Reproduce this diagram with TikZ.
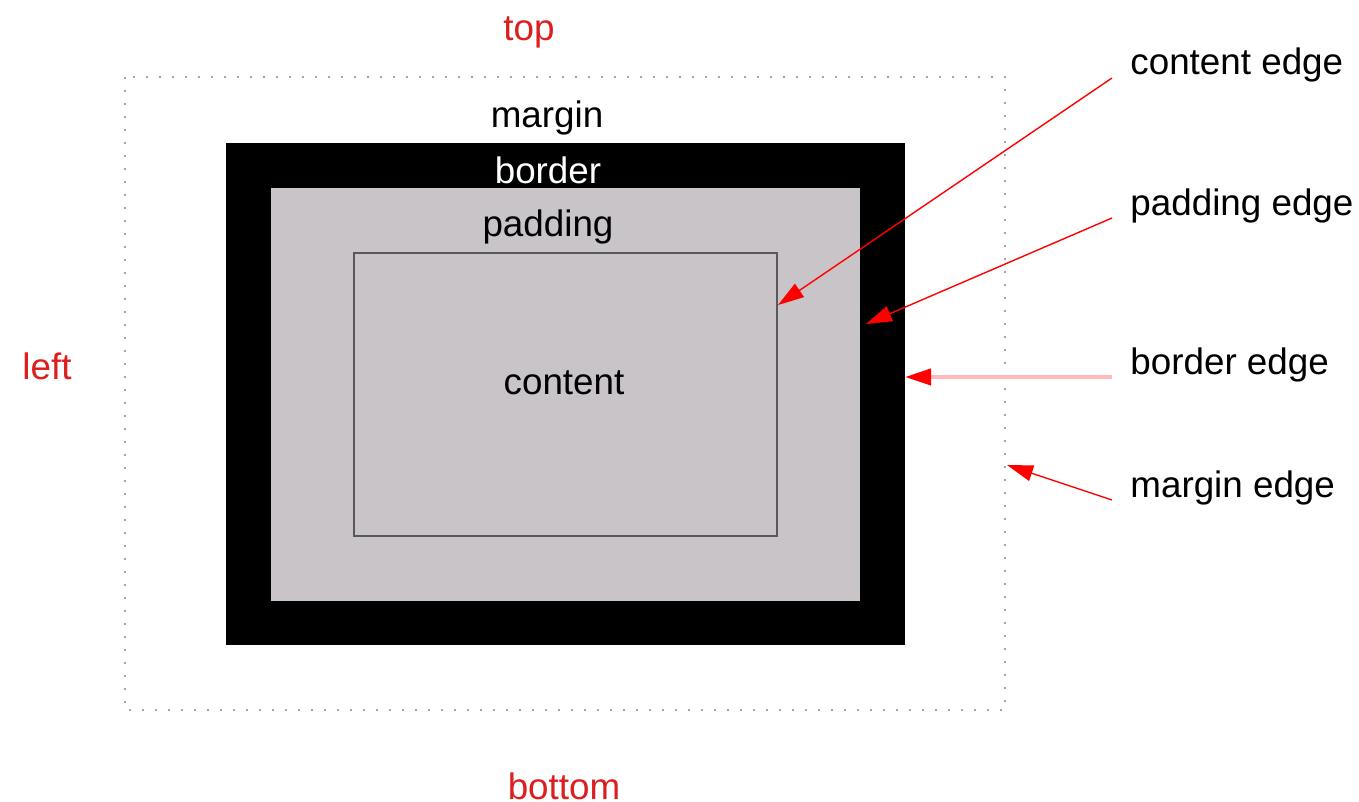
\documentclass[tikz,border=0pt]{standalone}
\usepackage{fontspec}
\setmainfont{Liberation Sans}
\usetikzlibrary{arrows.meta}
\definecolor{padgray}{RGB}{200,196,200}
\definecolor{labred}{RGB}{220,30,30}
\definecolor{arrred}{RGB}{255,0,0}
\definecolor{pinkline}{RGB}{255,185,185}
\begin{document}
\begin{tikzpicture}[x=0.5pt,y=-0.5pt,
  lbl/.style={font=\fontsize{18.4}{22}\selectfont, inner sep=0pt},
  redlbl/.style={lbl, text=labred},
  edgelbl/.style={lbl, anchor=west},
  ptr/.style={draw=arrred, line width=0.7pt, -{Triangle[length=13pt,width=8pt]}},
  ptrpink/.style={draw=pinkline, line width=2pt, -{Triangle[length=13pt,width=8pt,color=arrred,fill=arrred]}}]
\useasboundingbox (0,0) rectangle (1359,802);
% margin edge (dotted)
\draw[gray!70, line width=1pt, dash pattern=on 1pt off 5.5pt] (125,77) rectangle (1005,710);
% border
\fill[black] (226,143) rectangle (905,645);
% padding
\fill[padgray] (271,188) rectangle (860,601);
% content
\draw[fill=padgray, draw=black!65, line width=0.7pt] (354,253) rectangle (777,536);
% labels in the box
\node[redlbl] (top) at (529,32) {top};
\node[redlbl] (left) at (47,366) {left};
\node[redlbl] (bottom) at (564,786) {bottom};
\node[lbl] (margin) at (547,118) {margin};
\node[lbl, text=white] (border) at (548,170) {border};
\node[lbl] (padding) at (548,227) {padding};
\node[lbl] (content) at (564,383) {content};
% edge labels
\node[edgelbl] (ce) at (1130,65) {content edge};
\node[edgelbl] (pe) at (1130,206) {padding edge};
\node[edgelbl] (be) at (1130,365) {border edge};
\node[edgelbl] (me) at (1130,488) {margin edge};
% arrow targets
\coordinate (cetip) at (778,305);
\coordinate (petip) at (866,324);
\coordinate (betip) at (905,377);
\coordinate (metip) at (1007,465);
\coordinate (cestart) at (1112,78);
\coordinate (pestart) at (1112,218);
\coordinate (bestart) at (1112,377);
\coordinate (mestart) at (1112,500);
\draw[ptr] (cestart) -- (cetip);
\draw[ptr] (pestart) -- (petip);
\draw[ptrpink] (bestart) -- (betip);
\draw[ptr] (mestart) -- (metip);
\end{tikzpicture}
\end{document}
